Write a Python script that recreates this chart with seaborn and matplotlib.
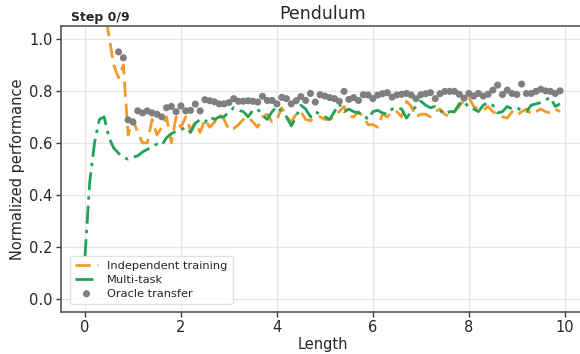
import numpy as np
import pandas as pd
import matplotlib
matplotlib.use("Agg")
import matplotlib.pyplot as plt
import seaborn as sns

# Pendulum length grid
length = [
    0.0, 0.1, 0.2, 0.3, 0.4, 0.5, 0.6, 0.7, 0.8, 0.9,
    1.0, 1.1, 1.2, 1.3, 1.4, 1.5, 1.6, 1.7, 1.8, 1.9,
    2.0, 2.1, 2.2, 2.3, 2.4, 2.5, 2.6, 2.7, 2.8, 2.9,
    3.0, 3.1, 3.2, 3.3, 3.4, 3.5, 3.6, 3.7, 3.8, 3.9,
    4.0, 4.1, 4.2, 4.3, 4.4, 4.5, 4.6, 4.7, 4.8, 4.9,
    5.0, 5.1, 5.2, 5.3, 5.4, 5.5, 5.6, 5.7, 5.8, 5.9,
    6.0, 6.1, 6.2, 6.3, 6.4, 6.5, 6.6, 6.7, 6.8, 6.9,
    7.0, 7.1, 7.2, 7.3, 7.4, 7.5, 7.6, 7.7, 7.8, 7.9,
    8.0, 8.1, 8.2, 8.3, 8.4, 8.5, 8.6, 8.7, 8.8, 8.9,
    9.0, 9.1, 9.2, 9.3, 9.4, 9.5, 9.6, 9.7, 9.8, 9.9,
]

independent = [
    1.60, 1.50, 1.38, 1.25, 1.13, 1.01, 0.90, 0.85, 0.90, 0.63,
    0.69, 0.64, 0.60, 0.60, 0.69, 0.63, 0.66, 0.70, 0.60, 0.70,
    0.66, 0.70, 0.65, 0.68, 0.64, 0.69, 0.66, 0.68, 0.71, 0.69,
    0.65, 0.655, 0.67, 0.69, 0.70, 0.68, 0.66, 0.70, 0.71, 0.68,
    0.69, 0.735, 0.70, 0.68, 0.71, 0.72, 0.69, 0.685, 0.70, 0.70,
    0.69, 0.69, 0.70, 0.72, 0.74, 0.70, 0.70, 0.72, 0.70, 0.67,
    0.67, 0.66, 0.71, 0.70, 0.72, 0.72, 0.70, 0.76, 0.74, 0.70,
    0.71, 0.71, 0.70, 0.72, 0.73, 0.71, 0.70, 0.72, 0.74, 0.765,
    0.775, 0.74, 0.73, 0.725, 0.74, 0.72, 0.71, 0.70, 0.695, 0.72,
    0.705, 0.72, 0.73, 0.71, 0.72, 0.73, 0.72, 0.715, 0.73, 0.72,
]

multitask = [
    0.16, 0.45, 0.60, 0.69, 0.70, 0.62, 0.58, 0.56, 0.545, 0.537,
    0.545, 0.55, 0.565, 0.575, 0.585, 0.595, 0.59, 0.62, 0.635, 0.645,
    0.65, 0.66, 0.64, 0.675, 0.69, 0.68, 0.70, 0.69, 0.70, 0.70,
    0.72, 0.735, 0.725, 0.72, 0.70, 0.725, 0.73, 0.705, 0.69, 0.72,
    0.74, 0.72, 0.70, 0.665, 0.70, 0.745, 0.73, 0.70, 0.72, 0.71,
    0.70, 0.69, 0.72, 0.75, 0.72, 0.73, 0.72, 0.715, 0.71, 0.69,
    0.72, 0.725, 0.715, 0.71, 0.73, 0.735, 0.73, 0.695, 0.72, 0.74,
    0.76, 0.745, 0.735, 0.74, 0.725, 0.71, 0.72, 0.72, 0.75, 0.76,
    0.735, 0.73, 0.72, 0.745, 0.755, 0.745, 0.715, 0.72, 0.74, 0.73,
    0.735, 0.725, 0.72, 0.745, 0.75, 0.755, 0.765, 0.775, 0.74, 0.75,
]

oracle = [
    1.40, 1.35, 1.28, 1.22, 1.15, 1.10, 1.07, 0.95, 0.927, 0.688,
    0.68, 0.723, 0.715, 0.723, 0.715, 0.71, 0.70, 0.735, 0.74, 0.72,
    0.742, 0.723, 0.725, 0.749, 0.723, 0.766, 0.762, 0.758, 0.75, 0.75,
    0.755, 0.77, 0.76, 0.76, 0.762, 0.76, 0.757, 0.779, 0.763, 0.763,
    0.75, 0.775, 0.77, 0.75, 0.762, 0.778, 0.763, 0.79, 0.757, 0.785,
    0.78, 0.774, 0.77, 0.76, 0.798, 0.767, 0.774, 0.763, 0.785, 0.784,
    0.77, 0.784, 0.789, 0.793, 0.776, 0.784, 0.787, 0.79, 0.784, 0.77,
    0.785, 0.789, 0.793, 0.77, 0.789, 0.798, 0.798, 0.798, 0.787, 0.772,
    0.79, 0.78, 0.79, 0.78, 0.787, 0.803, 0.822, 0.786, 0.803, 0.79,
    0.786, 0.826, 0.79, 0.79, 0.798, 0.806, 0.80, 0.798, 0.79, 0.80,
]

df = pd.DataFrame({
    "Length": length,
    "independent": independent,
    "multitask": multitask,
    "oracle": oracle,
})

sns.set_style("whitegrid")
plt.rcParams["font.family"] = ["DejaVu Sans"]

fig = plt.figure(figsize=(5.8, 3.54), dpi=100)
ax = fig.add_axes([0.1055, 0.119, 0.901, 0.808])

orange = "#f39a2b"
green = "#21a15a"
grey = "#7f7f7f"

sns.lineplot(data=df, x="Length", y="independent", ax=ax, color=orange,
             linestyle=(0, (5.5, 2.5)), linewidth=2.0, label="Independent training")
sns.lineplot(data=df, x="Length", y="multitask", ax=ax, color=green,
             linestyle=(0, (6.5, 2.2, 1.2, 2.2)), linewidth=2.0, label="Multi-task")
sns.scatterplot(data=df, x="Length", y="oracle", ax=ax, color=grey, s=26,
                edgecolor="none", label="Oracle transfer", zorder=3)

ax.set_xlim(-0.495, 10.395)
ax.set_ylim(-0.05, 1.05)
ax.set_xticks([0, 2, 4, 6, 8, 10])
ax.set_yticks([0.0, 0.2, 0.4, 0.6, 0.8, 1.0])
ax.set_xlabel("Length", fontsize=10.5, labelpad=1)
ax.set_ylabel("Normalized performance", fontsize=10.5, labelpad=3)
ax.set_title("Pendulum", fontsize=12.5, pad=5)
ax.tick_params(axis="both", labelsize=10.5, length=3.5, width=1, color="#333333",
               direction="out", bottom=True, left=True, pad=2.5)
ax.grid(True, color="#e6e6e6", linewidth=0.9)
for side in ["left", "bottom", "top", "right"]:
    ax.spines[side].set_color("#555555")
    ax.spines[side].set_linewidth(1.2)

ax.text(0.019, 1.008, "Step 0/9", transform=ax.transAxes, fontsize=9,
        fontweight="bold", ha="left", va="bottom")

leg = ax.legend(loc="lower left", fontsize=8.2, frameon=True, framealpha=0.9,
                borderpad=0.45, labelspacing=0.35, handlelength=2.0,
                bbox_to_anchor=(0.006, 0.008))
leg.get_frame().set_edgecolor("#dddddd")

fig.savefig("out.png", dpi=100, facecolor="white")
